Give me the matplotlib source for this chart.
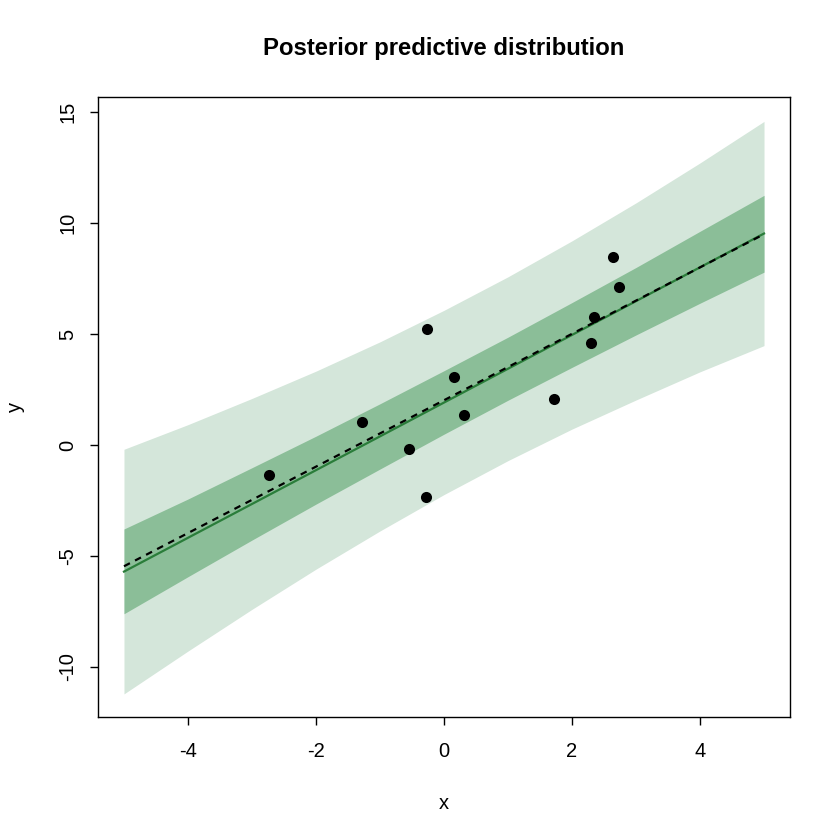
import matplotlib
matplotlib.use("Agg")
import matplotlib.pyplot as plt
import numpy as np

plt.rcParams['font.family'] = ['Liberation Sans', 'DejaVu Sans']

# observed data points
obs_x = [-2.73, -1.28, -0.55, -0.28, -0.27, 0.16, 0.31, 1.72, 2.29, 2.35, 2.64, 2.74]
obs_y = [-1.35, 1.04, -0.18, -2.33, 5.21, 3.08, 1.37, 2.09, 4.58, 5.78, 8.45, 7.13]

# posterior predictive bands
band_x = [-5, -4, -3, -2, -1, 0, 1, 2, 3, 4, 5]
pred95_upper = [-0.19, 0.92, 2.10, 3.33, 4.65, 6.07, 7.58, 9.20, 10.91, 12.71, 14.58]
pred95_lower = [-11.21, -9.28, -7.40, -5.59, -3.87, -2.23, -0.70, 0.72, 2.03, 3.30, 4.48]
pred50_upper = [-3.78, -2.43, -1.02, 0.40, 1.86, 3.35, 4.86, 6.42, 8.00, 9.63, 11.25]
pred50_lower = [-7.60, -5.93, -4.28, -2.66, -1.08, 0.49, 2.02, 3.50, 4.96, 6.39, 7.79]

# posterior mean line and true line
line_x = [-5, 5]
fit_y = [-5.70, 9.53]
true_y = [-5.46, 9.50]

title = "Posterior predictive distribution"
xticks = [-4, -2, 0, 2, 4]
yticks = [-10, -5, 0, 5, 10, 15]

fig = plt.figure(figsize=(8.4, 8.4), dpi=100)
ax = fig.add_axes([98/840, 1 - 717/840, 692/840, 620/840])

ax.fill_between(band_x, pred95_lower, pred95_upper, color='#d4e6da', linewidth=0, zorder=1)
ax.fill_between(band_x, pred50_lower, pred50_upper, color='#8bbe98', linewidth=0, zorder=2)
ax.plot(line_x, fit_y, color='#2a7d3a', linewidth=1.6, zorder=3)
ax.plot(line_x, true_y, color='black', linewidth=1.6, linestyle=(0, (3.0, 2.6)), zorder=4)
ax.scatter(obs_x, obs_y, s=64, color='black', zorder=5, linewidths=0)

ax.set_xlim(-5.406, 5.406)
ax.set_ylim(-12.25, 15.68)
ax.set_xticks(xticks)
ax.set_xticklabels([str(t) for t in xticks])
ax.set_yticks(yticks)
ax.set_yticklabels([str(t) for t in yticks], rotation=90, va='center')
ax.tick_params(axis='both', direction='out', length=6, width=1, labelsize=14.5, color='black')
ax.tick_params(axis='x', pad=12)
ax.tick_params(axis='y', pad=9)
for s in ax.spines.values():
    s.set_linewidth(1)
    s.set_color('black')

ax.set_xlabel('x', fontsize=14.5, labelpad=24)
ax.set_ylabel('y', fontsize=14.5, labelpad=24)
fig.text(444/840, 1 - 48/840, title, ha='center', va='center', fontsize=17.2, fontweight='bold')

fig.savefig('out.png', dpi=100, facecolor='white')
